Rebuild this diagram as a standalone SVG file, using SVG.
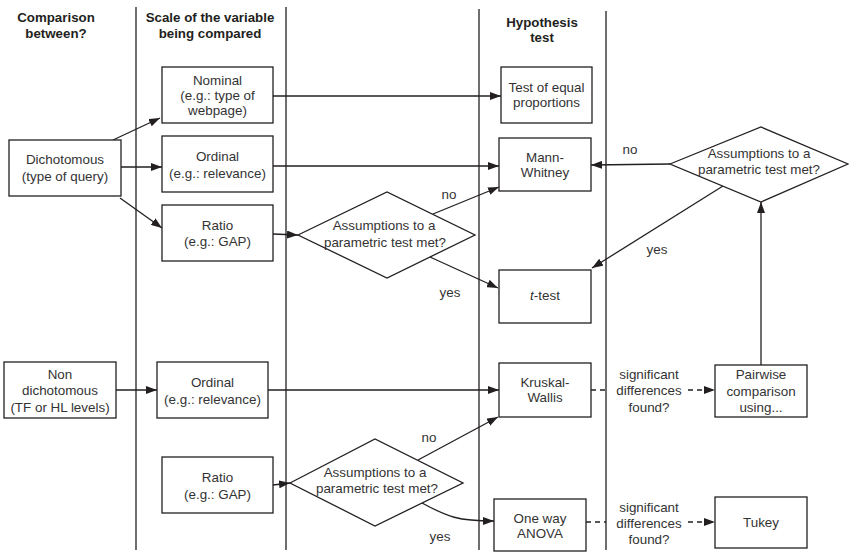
<svg xmlns="http://www.w3.org/2000/svg" width="849" height="552" viewBox="0 0 849 552">
  <style>
    .bg { fill: #ffffff; }
    .col { stroke: #231f20; stroke-width: 1.3; fill: none; }
    .box { fill: #ffffff; stroke: #231f20; stroke-width: 1.3; }
    .edge { stroke: #231f20; stroke-width: 1.3; fill: none; }
    .dash { stroke: #231f20; stroke-width: 1.3; fill: none; stroke-dasharray: 5 4; }
    text { font-family: "Liberation Sans", Arial, sans-serif; font-size: 13.4px; fill: #333333; text-anchor: middle; }
    .hdr { font-weight: bold; fill: #231f20; font-size: 13.3px; }
  </style>
  <defs>
    <marker id="arrow" markerUnits="userSpaceOnUse" markerWidth="12" markerHeight="8" refX="11" refY="4" orient="auto">
      <path d="M0,0 L11,4 L0,8 z" fill="#231f20"/>
    </marker>
  </defs>

  <rect class="bg" x="0" y="0" width="849" height="552"/>

  <!-- column separators -->
  <g id="columns">
    <line class="col" x1="136" y1="7" x2="136" y2="550"/>
    <line class="col" x1="286" y1="7" x2="286" y2="550"/>
    <line class="col" x1="479" y1="9" x2="479" y2="550"/>
    <line class="col" x1="606" y1="11" x2="606" y2="550"/>
  </g>

  <!-- column headings -->
  <g id="headings">
    <text class="hdr" x="56" y="21.5">Comparison</text>
    <text class="hdr" x="56" y="37.5">between?</text>
    <text class="hdr" x="210" y="21.5">Scale of the variable</text>
    <text class="hdr" x="210" y="37.5">being compared</text>
    <text class="hdr" x="542" y="26.5">Hypothesis</text>
    <text class="hdr" x="542" y="41.5">test</text>
  </g>

  <!-- connectors -->
  <g id="connectors">
    <!-- dichotomous branch -->
    <line class="edge" x1="113" y1="140" x2="160" y2="118" marker-end="url(#arrow)"/>
    <line class="edge" x1="121" y1="167" x2="162" y2="167" marker-end="url(#arrow)"/>
    <line class="edge" x1="120" y1="198" x2="162" y2="228" marker-end="url(#arrow)"/>
    <line class="edge" x1="273" y1="96" x2="501" y2="96" marker-end="url(#arrow)"/>
    <line class="edge" x1="273" y1="166" x2="499" y2="166" marker-end="url(#arrow)"/>
    <line class="edge" x1="273" y1="234" x2="298" y2="235" marker-end="url(#arrow)"/>
    <line class="edge" x1="433" y1="214" x2="499" y2="187" marker-end="url(#arrow)"/>
    <line class="edge" x1="430" y1="257" x2="498" y2="288" marker-end="url(#arrow)"/>
    <!-- right-hand decision -->
    <line class="edge" x1="670" y1="164" x2="591" y2="165" marker-end="url(#arrow)"/>
    <line class="edge" x1="723" y1="186" x2="592" y2="268" marker-end="url(#arrow)"/>
    <line class="edge" x1="761" y1="365" x2="761" y2="202" marker-end="url(#arrow)"/>
    <!-- non-dichotomous branch -->
    <line class="edge" x1="116" y1="390" x2="157" y2="390" marker-end="url(#arrow)"/>
    <line class="edge" x1="268" y1="390" x2="499" y2="390" marker-end="url(#arrow)"/>
    <line class="edge" x1="273" y1="485" x2="290" y2="483" marker-end="url(#arrow)"/>
    <line class="edge" x1="418" y1="460" x2="498" y2="417" marker-end="url(#arrow)"/>
    <path class="edge" d="M422,503 C448,517 458,521 494,521" marker-end="url(#arrow)"/>
    <!-- post-hoc steps -->
    <line class="dash" x1="591" y1="390" x2="606" y2="390"/>
    <line class="dash" x1="688" y1="390" x2="715" y2="390" marker-end="url(#arrow)"/>
    <line class="dash" x1="586" y1="522" x2="606" y2="522"/>
    <line class="dash" x1="688" y1="522" x2="715" y2="522" marker-end="url(#arrow)"/>
  </g>

  <!-- connector labels -->
  <g id="labels">
    <text x="630" y="153.5">no</text>
    <text x="657" y="253.5">yes</text>
    <text x="449" y="198.5">no</text>
    <text x="450" y="296.5">yes</text>
    <text x="429" y="441.5">no</text>
    <text x="440" y="540.5">yes</text>
    <text x="649" y="378.5">significant</text>
    <text x="649" y="394.5">differences</text>
    <text x="649" y="411.5">found?</text>
    <text x="649" y="511.5">significant</text>
    <text x="649" y="527.5">differences</text>
    <text x="649" y="543.5">found?</text>
  </g>

  <g id="dichotomous">
    <rect class="box" x="9" y="140" width="112" height="56"/>
    <text x="65" y="163.5">Dichotomous</text>
    <text x="65" y="180.5">(type of query)</text>
  </g>

  <g id="nominal">
    <rect class="box" x="162" y="67" width="111" height="56"/>
    <text x="217.5" y="84.5">Nominal</text>
    <text x="217.5" y="99.5">(e.g.: type of</text>
    <text x="217.5" y="114.5">webpage)</text>
  </g>

  <g id="ordinal-1">
    <rect class="box" x="162" y="136" width="111" height="56"/>
    <text x="217.5" y="160.5">Ordinal</text>
    <text x="217.5" y="177.5">(e.g.: relevance)</text>
  </g>

  <g id="ratio-1">
    <rect class="box" x="162" y="205" width="111" height="56"/>
    <text x="217.5" y="229.5">Ratio</text>
    <text x="217.5" y="245.5">(e.g.: GAP)</text>
  </g>

  <g id="decision-1">
    <polygon class="box" points="298,235 387,192 475,235 387,278"/>
    <text x="384" y="229.5">Assumptions to a</text>
    <text x="385" y="246.5">parametric test met?</text>
  </g>

  <g id="equal-proportions">
    <rect class="box" x="501" y="67" width="91" height="56"/>
    <text x="546.5" y="91.5">Test of equal</text>
    <text x="546.5" y="106.5">proportions</text>
  </g>

  <g id="mann-whitney">
    <rect class="box" x="499" y="138" width="92" height="53"/>
    <text x="545" y="161.5">Mann-</text>
    <text x="545" y="176.5">Whitney</text>
  </g>

  <g id="t-test">
    <rect class="box" x="499" y="270" width="92" height="53"/>
    <text x="545" y="299.5"><tspan font-style="italic">t</tspan>-test</text>
  </g>

  <g id="decision-right">
    <polygon class="box" points="670,164 761,127 848,164 761,202"/>
    <text x="759" y="157.5">Assumptions to a</text>
    <text x="759" y="173.5">parametric test met?</text>
  </g>

  <g id="non-dichotomous">
    <rect class="box" x="4" y="362" width="112" height="56"/>
    <text x="60" y="378.5">Non</text>
    <text x="60" y="394.5">dichotomous</text>
    <text x="60" y="411.5">(TF or HL levels)</text>
  </g>

  <g id="ordinal-2">
    <rect class="box" x="157" y="362" width="111" height="56"/>
    <text x="212.5" y="386.5">Ordinal</text>
    <text x="212.5" y="403.5">(e.g.: relevance)</text>
  </g>

  <g id="ratio-2">
    <rect class="box" x="162" y="457" width="111" height="56"/>
    <text x="217.5" y="481.5">Ratio</text>
    <text x="217.5" y="498.5">(e.g.: GAP)</text>
  </g>

  <g id="decision-2">
    <polygon class="box" points="290,483 375,439 463,483 375,526"/>
    <text x="375" y="476.5">Assumptions to a</text>
    <text x="377" y="492.5">parametric test met?</text>
  </g>

  <g id="kruskal-wallis">
    <rect class="box" x="499" y="363" width="92" height="54"/>
    <text x="545" y="386.5">Kruskal-</text>
    <text x="545" y="401.5">Wallis</text>
  </g>

  <g id="anova">
    <rect class="box" x="494" y="499" width="92" height="52"/>
    <text x="540" y="522.5">One way</text>
    <text x="540" y="537.5">ANOVA</text>
  </g>

  <g id="pairwise">
    <rect class="box" x="715" y="365" width="92" height="52"/>
    <text x="761" y="378.5">Pairwise</text>
    <text x="761" y="395.5">comparison</text>
    <text x="761" y="411.5">using...</text>
  </g>

  <g id="tukey">
    <rect class="box" x="715" y="497" width="92" height="51"/>
    <text x="761" y="526.5">Tukey</text>
  </g>
</svg>
